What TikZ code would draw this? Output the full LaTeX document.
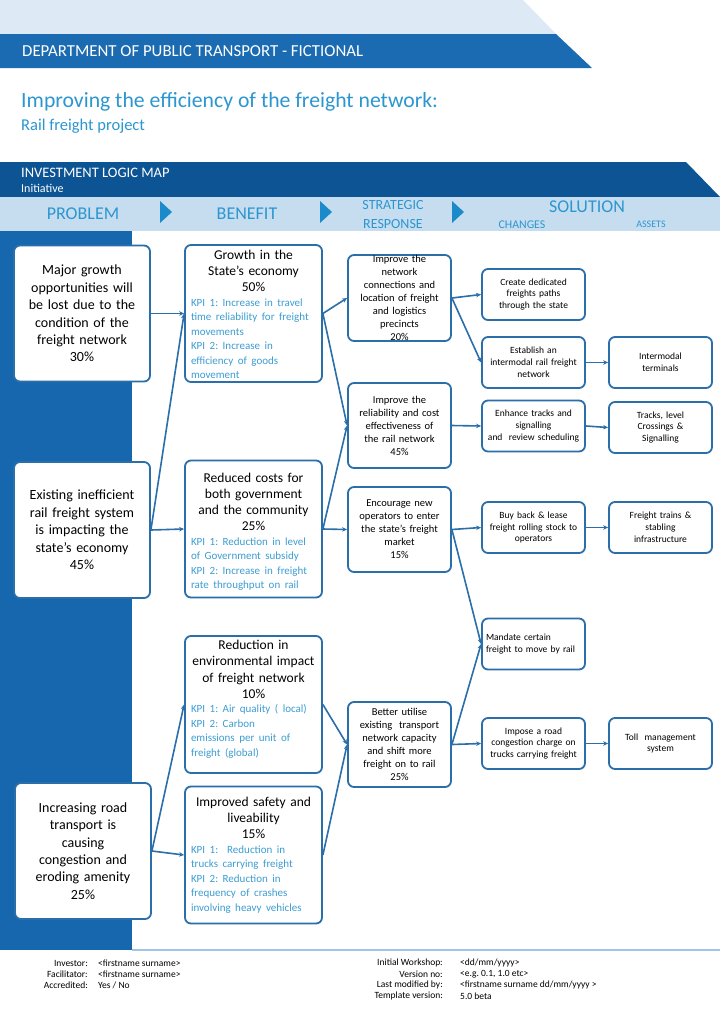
\documentclass[tikz,border=0pt]{standalone}
\usepackage{fontspec}
\setmainfont{Carlito}
\usetikzlibrary{positioning,arrows.meta}
\frenchspacing

\definecolor{topband}{HTML}{DDE9F5}
\definecolor{deptband}{HTML}{1B6BB2}
\definecolor{ilmband}{HTML}{0C5494}
\definecolor{headband}{HTML}{C6DDF0}
\definecolor{sidebar}{HTML}{1667AE}
\definecolor{headtext}{HTML}{2C96D0}
\definecolor{tri}{HTML}{1B8ACB}
\definecolor{boxline}{HTML}{2A6EAA}
\definecolor{kpitext}{HTML}{3C9DD2}
\definecolor{footline}{HTML}{9EC5E8}

\newcommand{\kpilines}[1]{{\raggedright\color{kpitext}\fontsize{11}{14.5}\selectfont #1\par}}

\begin{document}
\begin{tikzpicture}[x=1pt, y=-1pt,
    box/.style={draw=boxline, line width=1.8pt, rounded corners=6pt, fill=white, inner sep=0pt},
    probbox/.style={box, minimum width=136pt, minimum height=136pt, text width=128pt, align=center, font=\fontsize{14}{17.4}\selectfont},
    benbox/.style={box, minimum width=137pt, minimum height=137pt},
    bentext/.style={text width=125pt, inner sep=0pt, align=left, font=\fontsize{13.5}{16.2}\selectfont},
    srtext/.style={text width=100pt, inner sep=0pt, align=center, font=\fontsize{10.5}{13}\selectfont},
    srbox/.style={box, srtext, minimum width=103pt, minimum height=85pt},
    solbox/.style={box, minimum width=103pt, minimum height=51pt, text width=100pt, align=center, font=\fontsize{9.5}{11.8}\selectfont},
    link/.style={draw=boxline, line width=1.6pt, -{Stealth[length=5pt,width=4.5pt]}},
    colhead/.style={text=headtext, inner sep=0pt, align=center},
    foot/.style={font=\fontsize{9.5}{11}\selectfont, inner sep=0pt},
  ]
  \useasboundingbox (0,0) rectangle (720,1018);
  \fill[white] (0,0) rectangle (720,1018);

  % header bands
  \fill[topband] (0,0) -- (523,0) -- (556,34) -- (0,34) -- cycle;
  \fill[deptband] (0,34) -- (556,34) -- (592,68) -- (0,68) -- cycle;
  \node[anchor=west, text=white, inner sep=0pt, font=\fontsize{16.8}{19}\selectfont] (dept) at (22,51) {DEPARTMENT OF PUBLIC TRANSPORT - FICTIONAL};

  % title
  \node[anchor=west, text=headtext, inner sep=0pt, font=\fontsize{21.7}{25}\selectfont] (title) at (21,102) {Improving the efficiency of the freight network:};
  \node[anchor=west, text=headtext, inner sep=0pt, font=\fontsize{16.5}{19}\selectfont] (subtitle) at (21,126) {Rail freight project};

  % investment logic map band
  \fill[ilmband] (0,162) -- (686,162) -- (720,197) -- (0,197) -- cycle;
  \node[anchor=west, text=white, inner sep=0pt, font=\fontsize{14.5}{17}\selectfont] (ilm) at (21,173) {INVESTMENT LOGIC MAP};
  \node[anchor=west, text=white, inner sep=0pt, font=\fontsize{12}{14}\selectfont] (initiative) at (21,188.5) {Initiative};

  % column headings
  \fill[headband] (0,197) rectangle (720,231);
  \foreach \x in {160,320,452}
    \fill[tri] (\x,201) -- (\x+12,212) -- (\x,223) -- cycle;
  \node[colhead, font=\fontsize{18}{20}\selectfont] (hprob) at (83,214) {PROBLEM};
  \node[colhead, font=\fontsize{18}{20}\selectfont] (hben) at (247,214) {BENEFIT};
  \node[colhead, font=\fontsize{14}{18}\selectfont] (hsr) at (393,214.5) {STRATEGIC\\RESPONSE};
  \node[colhead, font=\fontsize{18}{20}\selectfont] (hsol) at (587,207) {SOLUTION};
  \node[colhead, font=\fontsize{11.8}{13}\selectfont] (hchg) at (522,225) {CHANGES};
  \node[colhead, font=\fontsize{10}{12}\selectfont] (hast) at (651,224) {ASSETS};

  % side bar and footer rule
  \fill[sidebar] (0,231) rectangle (132,950);
  \draw[footline, line width=1.5pt] (132,950) -- (720,950);

  % problems
  \node[probbox] (p1) at (82,313.5) {Major growth\\opportunities will\\be lost due to the\\condition of the\\freight network\\30\%};
  \node[probbox] (p2) at (82,530) {Existing inefficient\\rail freight system\\is impacting the\\state’s economy\\45\%};
  \node[probbox] (p3) at (83,851) {Increasing road\\transport is\\causing\\congestion and\\eroding amenity\\25\%};

  % benefits
  \node[benbox] (b1) at (253.5,313.5) {};
  \node[bentext, below=5.5pt of b1.north] (b1t) {{\centering Growth in the\\State’s economy\\50\%\par}\kpilines{KPI 1: Increase in travel\\time reliability for freight\\movements\\KPI 2: Increase in\\efficiency of goods\\movement}};
  \node[benbox] (b2) at (253.5,529) {};
  \node[bentext, below=13pt of b2.north] (b2t) {{\centering Reduced costs for\\both government\\and the community\\25\%\par}\kpilines{KPI 1: Reduction in level\\of Government subsidy\\KPI 2: Increase in freight\\rate throughput on rail}};
  \node[benbox] (b3) at (253.5,704.5) {};
  \node[bentext, below=5pt of b3.north] (b3t) {{\centering Reduction in\\environmental impact\\of freight network\\10\%\par}\kpilines{KPI 1: Air quality ( local)\\KPI 2: Carbon\\emissions per unit of\\freight (global)}};
  \node[benbox] (b4) at (253.5,855) {};
  \node[bentext, below=11pt of b4.north] (b4t) {{\centering Improved safety and\\liveability\\15\%\par}\kpilines{KPI 1:\ \ Reduction in\\trucks carrying freight\\KPI 2: Reduction in\\frequency of crashes\\involving heavy vehicles}};

  % strategic responses
  \node[box, minimum width=103pt, minimum height=86pt] (s1) at (399.5,298) {};
  \node[srtext] (s1t) at (s1) {Improve the\\network\\connections and\\location of freight\\and logistics\\precincts\\20\%};
  \node[srbox] (s2) at (399.5,425.5) {Improve the\\reliability and cost\\effectiveness of\\the rail network\\45\%};
  \node[srbox] (s3) at (399.5,529.5) {Encourage new\\operators to enter\\the state’s freight\\market\\15\%};
  \node[srbox] (s4) at (399.5,744.5) {Better utilise\\existing\ \ transport\\network capacity\\and shift more\\freight on to rail\\25\%};

  % changes
  \node[solbox] (c1) at (533.5,294.5) {Create dedicated\\freights paths\\through the state};
  \node[solbox] (c2) at (533.5,362.5) {Establish an\\intermodal rail freight\\network};
  \node[solbox] (c3) at (533.5,426) {Enhance tracks and\\signalling\\and\ \ review scheduling};
  \node[solbox] (c4) at (533.5,527.5) {Buy back \& lease\\freight rolling stock to\\operators};
  \node[solbox, text width=95pt, align=left] (c5) at (533.5,644) {Mandate certain\\freight to move by rail};
  \node[solbox] (c6) at (533.5,743.5) {Impose a road\\congestion charge on\\trucks carrying freight};

  % assets
  \node[solbox] (a1) at (660.5,362.5) {Intermodal\\terminals};
  \node[solbox] (a2) at (660.5,427.5) {Tracks, level\\Crossings \&\\Signalling};
  \node[solbox] (a3) at (660.5,527.5) {Freight trains \&\\stabling\\infrastructure};
  \node[solbox] (a4) at (660.5,743.5) {Toll\ \ management\\system};

  % links
  \foreach \from/\to in {p1/b1, p2/b1, p2/b2, p3/b3, p3/b4,
      b1/s1, b1/s2, b2/s2, b2/s3, b3/s4, b4/s4,
      s1/c1, s1/c2, s2/c3, s3/c4, s3/c5, s4/c5, s4/c6,
      c2/a1, c3/a2, c4/a3, c6/a4}
    \draw[link] (\from.east) -- (\to.west);

  % footer
  \foreach \lab/\val [count=\i] in {Investor:/{<firstname surname>}, Facilitator:/{<firstname surname>}, Accredited:/{Yes / No}} {
    \node[foot, anchor=east] (fl\i) at (88,952+11*\i) {\lab};
    \node[foot, anchor=west] (fv\i) at (98,952+11*\i) {\val};
  }
  \foreach \lab/\val [count=\i] in {Initial Workshop:/{<dd/mm/yyyy>}, Version no:/{<e.g. 0.1, 1.0 etc>}, Last modified by:/{<firstname surname dd/mm/yyyy >}, Template version:/{5.0 beta}} {
    \node[foot, anchor=east] (gl\i) at (443,952+11*\i) {\lab};
    \node[foot, anchor=west] (gv\i) at (460,952+11*\i) {\val};
  }
\end{tikzpicture}
\end{document}
